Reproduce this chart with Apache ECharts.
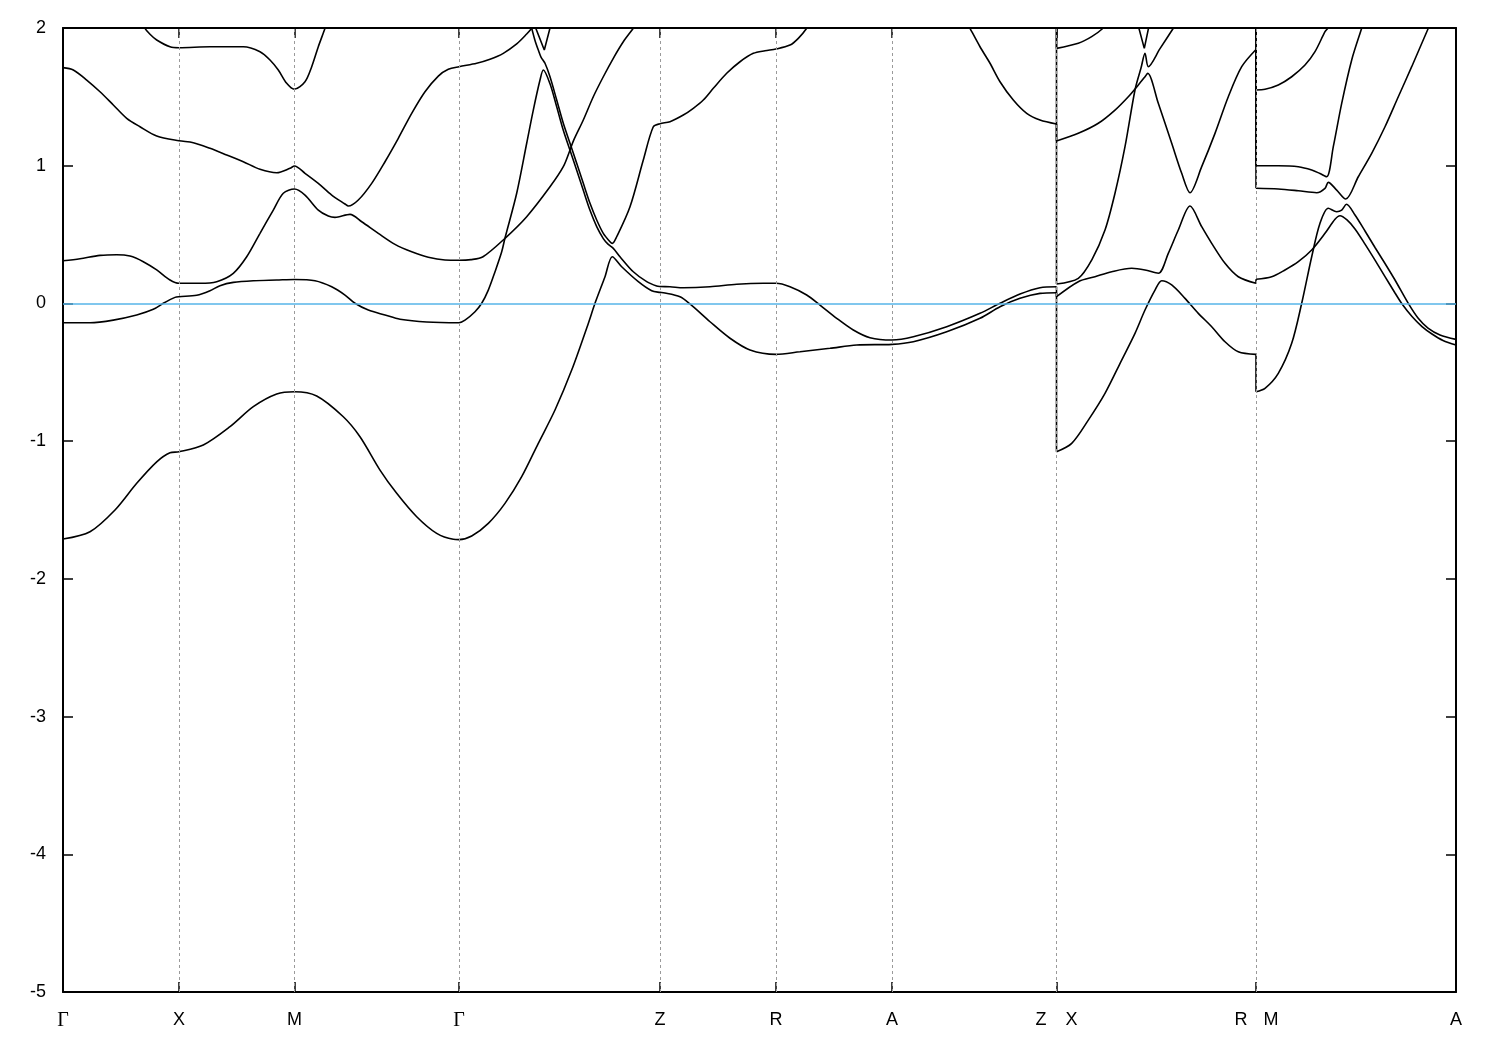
<!DOCTYPE html>
<html>
<head>
<meta charset="utf-8">
<script src="https://cdn.jsdelivr.net/npm/echarts@6/dist/echarts.min.js"></script>
<style>
html,body{margin:0;padding:0;background:#fff;}
#chart{width:1500px;height:1050px;}
</style>
</head>
<body>
<div id="chart"></div>
<script>
// High-symmetry points along the k-path (k in arbitrary path units)
const symK = [0, 116, 231.5, 396, 597, 713, 829, 993.5, 1193, 1393];
const labelK = [0, 116, 231.5, 396, 597, 713, 829, 978, 1008.5, 1178, 1208, 1393];
const labelText = ['Γ', 'X', 'M', 'Γ', 'Z', 'R', 'A', 'Z', 'X', 'R', 'M', 'A'];
const yTicks = { min: -5, max: 2, step: 1 };
const fermiLevel = 0;

// Bands: [k, E (eV)]
const band1 = [[0,-1.711],[27,-1.658],[52,-1.500],[73.7,-1.306],[93.7,-1.150],[107,-1.084],[116,-1.077],[140.3,-1.028],[167,-0.895],[190.3,-0.750],[213.7,-0.658],[231.5,-0.641],[253.7,-0.672],[280.3,-0.823],[297,-0.968],[317,-1.210],[333.7,-1.379],[353.7,-1.549],[373.7,-1.670],[390.3,-1.713],[396,-1.715],
[408.7,-1.689],[425.3,-1.597],[442,-1.452],[458.7,-1.258],[475.3,-1.016],[492,-0.774],[508.7,-0.484],[525.3,-0.145],[532,0.001],[542,0.194],[549.3,0.339],[558.7,0.266],[575.3,0.158],[588.7,0.092],[597,0.080],
[600.3,0.078],[617,0.049],[627,-0.004],[647,-0.133],[667,-0.253],[687,-0.338],[713,-0.370],[737,-0.351],[767,-0.326],[793.7,-0.302],[829,-0.297],[850.3,-0.278],[883.7,-0.206],[917,-0.108],[937,-0.024],[957,0.037],[977,0.073],[993.5,0.078],
[993.5,-1.077],[1008.7,-1.016],[1025.3,-0.847],[1042,-0.653],[1058.7,-0.411],[1072,-0.217],[1082,-0.048],[1092,0.097],[1098.7,0.165],[1108.7,0.134],[1122,0.037],[1135.3,-0.072],[1148.7,-0.169],[1162,-0.278],[1175.3,-0.351],[1193,-0.370],
[1193,-0.641],[1202,-0.617],[1215.3,-0.508],[1228.7,-0.290],[1238.7,0.001],[1248.7,0.339],[1257,0.582],[1265.3,0.691],[1273.7,0.666],[1278.7,0.678],[1283.5,0.720],[1292,0.642],[1302,0.526],[1312,0.406],[1322,0.290],[1332,0.170],[1345.3,0.000],[1355,-0.106],[1365,-0.179],[1377,-0.229],[1393,-0.261]];

const band2 = [[0,-0.140],[27,-0.140],[50.3,-0.121],[73.7,-0.084],[90.3,-0.043],[100.3,0.001],[112,0.044],[116,0.049],[133.7,0.059],[147,0.092],[157,0.129],[170.3,0.153],[190.3,0.165],[213.7,0.170],[231.5,0.174],[252,0.165],[268.7,0.121],[282,0.061],[292,0.001],[305.3,-0.048],[322,-0.084],[337,-0.115],[363.7,-0.135],[396,-0.140],
[402,-0.121],[412,-0.060],[418.7,0.001],[425.3,0.097],[432,0.230],[438.7,0.375],[442,0.475],[453.7,0.800],[463.7,1.163],[470.3,1.404],[477,1.622],[480.3,1.695],
[487,1.595],[493.7,1.428],[500.3,1.257],[507,1.112],[513.7,0.967],[520.3,0.821],[527,0.676],[533.7,0.558],[540.3,0.471],[545,0.431],[550.3,0.400],[557,0.339],[570.3,0.230],[583.7,0.158],[593.7,0.126],[597,0.123],
[607,0.121],[620.3,0.114],[647,0.121],[673.7,0.139],[700.3,0.146],[713,0.146],[727,0.121],[743.7,0.061],[757,-0.012],[773.7,-0.108],[790.3,-0.193],[807,-0.249],[829,-0.266],[850.3,-0.242],[883.7,-0.169],[917,-0.072],[937,0.001],[957,0.068],[977,0.114],[993.5,0.121],
[993.5,0.049],[1015.3,0.158],[1032,0.194],[1048.7,0.230],[1068.7,0.255],[1082,0.243],[1095.3,0.219],[1105.3,0.364],[1115.3,0.533],[1127,0.707],[1138.7,0.557],[1148.7,0.436],[1162,0.291],[1175.3,0.194],[1193,0.146],
[1193,0.175],[1208.7,0.194],[1222,0.243],[1235.3,0.303],[1248.7,0.388],[1262,0.509],[1272,0.611],[1277,0.637],[1284,0.606],[1292,0.541],[1302,0.431],[1312,0.315],[1322,0.195],[1332,0.076],[1338.7,0.000],[1349,-0.095],[1359,-0.168],[1369,-0.222],[1380,-0.269],[1393,-0.302]];

const band3 = [[0,0.310],[17,0.325],[37,0.349],[53.7,0.354],[67,0.344],[80.3,0.303],[93.7,0.243],[107,0.170],[116,0.146],[137,0.146],[153.7,0.158],[170.3,0.219],[183.7,0.339],[197,0.509],[210.3,0.678],[220.3,0.800],[231.5,0.831],[242,0.787],[255.3,0.678],[265.3,0.635],[272,0.625],[287,0.647],[298.7,0.593],[315.3,0.509],[332,0.429],[348.7,0.375],[365.3,0.335],[382,0.315],[396,0.313],
[408,0.318],[420,0.339],[442,0.473],[463.7,0.630],[487,0.847],[500.3,0.993],[507,1.114],[510.3,1.179],[520.3,1.332],[530.3,1.501],[540.3,1.646],[550.3,1.780],[560.3,1.900],[570.3,1.998],[577,2.07]];

const band4 = [[0,1.712],[10.3,1.695],[23.7,1.622],[37,1.537],[50.3,1.441],[63.7,1.344],[77,1.283],[93.7,1.216],[116,1.181],[130.3,1.167],[147,1.126],[163.7,1.078],[180.3,1.029],[197,0.974],[213.7,0.949],[227,0.981],[231.5,0.998],[242,0.945],[255.3,0.872],[268.7,0.787],[282,0.722],[285.3,0.707],[295.3,0.751],[308.7,0.872],[322,1.029],[335.3,1.199],[348.7,1.380],[362,1.537],[375.3,1.651],[385.3,1.700],[396,1.719],[413.7,1.744],[427,1.773],[440.3,1.816],[453.7,1.884],[463.7,1.956],[468.7,1.998],[473,2.04]];

const band5 = [[466,2.07],[468.7,1.998],[472,1.910],[475.3,1.840],[478,1.789],[482,1.744],[487,1.646],[493.7,1.477],[500.3,1.308],[507,1.163],[513.7,1.017],[520.3,0.872],[527,0.727],[533.7,0.606],[540.3,0.509],[547,0.448],[549.3,0.436],[553.7,0.484],[567,0.702],[580.3,1.041],[590.3,1.283],[597,1.305],
[607,1.320],[620.3,1.368],[630.3,1.417],[640.3,1.477],[650.3,1.562],[663.7,1.671],[677,1.755],[690.3,1.816],[702,1.835],[713,1.847],[727,1.876],[735.3,1.925],[743.7,1.998],[749,2.07]];

const band6 = [[901,2.08],[907,1.998],[917,1.864],[927,1.744],[937,1.610],[950.3,1.477],[963.7,1.380],[977,1.332],[993.5,1.303],
[993.5,0.141],[1015.3,0.182],[1028.7,0.315],[1042,0.533],[1052,0.800],[1062,1.138],[1072,1.550],[1078,1.709],[1082,1.816],[1085.3,1.719],[1097,1.850],[1110.3,1.998],[1117,2.07]];

const band7 = [[993.5,2.1],[993.5,1.179],[1015.3,1.235],[1035.3,1.308],[1052,1.404],[1065.3,1.501],[1075.3,1.586],[1082,1.646],[1084.7,1.671],[1095.3,1.453],[1108.7,1.163],[1118.7,0.945],[1127,0.804],[1138.7,0.993],[1152,1.235],[1165.3,1.501],[1178.7,1.719],[1193,1.844],
[1193,0.836],[1215.3,0.831],[1235.3,0.818],[1253.7,0.804],[1262,0.836],[1265.3,0.879],[1273.7,0.823],[1282.7,0.758],[1295.3,0.920],[1308.7,1.090],[1322,1.283],[1335.3,1.501],[1348.7,1.719],[1365.3,1.998],[1370,2.07]];

const band8 = [[993.5,2.1],[993.5,1.852],[1015.3,1.889],[1028.7,1.937],[1040,1.998],[1047,2.06]];

const band9 = [[79,2.06],[82,1.998],[87,1.955],[93.7,1.913],[107,1.864],[116,1.857],[147,1.864],[180.3,1.864],[197,1.828],[207,1.768],[215.3,1.695],[223.7,1.598],[231.3,1.555],[242,1.610],[248.7,1.719],[255.3,1.864],[262,1.998],[265,2.07]];

const band10 = [[470,2.05],[481.3,1.840],[488.8,2.05]];

const band11 = [[1074,2.05],[1081.3,1.852],[1087,2.05]];

const band12 = [[1193,2.1],[1193,1.000],[1215.3,1.000],[1235.3,0.993],[1248.7,0.969],[1257,0.943],[1263.7,0.920],[1270.3,1.138],[1278.7,1.453],[1288.7,1.768],[1298.7,1.998],[1302,2.07]];

const band13 = [[1193,2.1],[1193,1.550],[1202,1.555],[1215.3,1.586],[1228.7,1.646],[1242,1.731],[1252,1.828],[1262,1.973],[1264.7,1.998],[1268,2.06]];

const bands = [band1, band2, band3, band4, band5, band6, band7, band8, band9, band10, band11, band12, band13];
const sharpBands = [band10, band11];

const chart = echarts.init(document.getElementById('chart'), null, { renderer: 'canvas' });

function labelFor(v) {
  for (let i = 0; i < labelK.length; i++) {
    if (Math.abs(labelK[i] - v) < 0.01) {
      return labelText[i] === 'Γ' ? '{g|Γ}' : labelText[i];
    }
  }
  return '';
}

// Split a band at path discontinuities (two points with the same k):
// continuous pieces are smoothed, the jumps are drawn as straight connectors.
function splitBand(b) {
  const pieces = [];
  const jumps = [];
  let cur = [b[0]];
  for (let i = 1; i < b.length; i++) {
    if (b[i][0] === b[i - 1][0]) {
      pieces.push(cur);
      jumps.push([b[i - 1], b[i]]);
      cur = [b[i]];
    } else {
      cur.push(b[i]);
    }
  }
  pieces.push(cur);
  return { pieces, jumps };
}

const axisLineStyle = { color: '#000', width: 2 };
const kMin = symK[0], kMax = symK[symK.length - 1];
const bandLine = { color: '#000', width: 1.6 };

const series = [{
  type: 'line',
  data: [],
  z: 1,
  silent: true,
  animation: false,
  markLine: {
    silent: true,
    symbol: ['none', 'none'],
    animation: false,
    label: { show: false },
    data: symK.slice(1, -1).map(k => ({ xAxis: k, lineStyle: { color: '#9a9a9a', type: [3, 3], width: 1 } }))
      .concat([{ yAxis: fermiLevel, lineStyle: { color: '#56b4e9', type: 'solid', width: 1.6 } }])
  }
}];

bands.forEach((b) => {
  const { pieces, jumps } = splitBand(b);
  const sharp = sharpBands.includes(b);
  pieces.forEach(p => series.push({
    type: 'line', data: p, showSymbol: false, symbol: 'none', clip: true,
    smooth: sharp ? false : 0.3, z: 3, lineStyle: bandLine, silent: true, animation: false
  }));
  jumps.forEach(j => series.push({
    type: 'line', data: j, showSymbol: false, symbol: 'none', clip: true,
    smooth: false, z: 3, lineStyle: bandLine, silent: true, animation: false
  }));
});

chart.setOption({
  backgroundColor: '#fff',
  animation: false,
  grid: { left: 63, right: 44, top: 28, bottom: 58, containLabel: false },
  xAxis: [
    {
      type: 'value', min: kMin, max: kMax, position: 'bottom',
      axisLine: { show: true, onZero: false, lineStyle: axisLineStyle },
      axisTick: { show: true, inside: true, length: 10, customValues: symK, lineStyle: { color: '#000', width: 1.5 } },
      axisLabel: {
        show: true, customValues: labelK, margin: 19,
        color: '#000', fontSize: 18, fontFamily: 'Liberation Sans',
        formatter: labelFor,
        rich: { g: { fontFamily: 'Liberation Serif', fontSize: 20, color: '#000' } }
      },
      splitLine: { show: false }
    },
    {
      type: 'value', min: kMin, max: kMax, position: 'top',
      axisLine: { show: true, onZero: false, lineStyle: axisLineStyle },
      axisTick: { show: true, inside: true, length: 10, customValues: symK, lineStyle: { color: '#000', width: 1.5 } },
      axisLabel: { show: false },
      splitLine: { show: false }
    }
  ],
  yAxis: [
    {
      type: 'value', min: yTicks.min, max: yTicks.max, interval: yTicks.step, position: 'left',
      axisLine: { show: true, onZero: false, lineStyle: axisLineStyle },
      axisTick: { show: true, inside: true, length: 10, lineStyle: { color: '#000', width: 1.5 } },
      axisLabel: { color: '#000', fontSize: 18, fontFamily: 'Liberation Sans', margin: 17 },
      splitLine: { show: false }
    },
    {
      type: 'value', min: yTicks.min, max: yTicks.max, interval: yTicks.step, position: 'right',
      axisLine: { show: true, onZero: false, lineStyle: axisLineStyle },
      axisTick: { show: true, inside: true, length: 10, lineStyle: { color: '#000', width: 1.5 } },
      axisLabel: { show: false },
      splitLine: { show: false }
    }
  ],
  series: series
});
</script>
</body>
</html>
